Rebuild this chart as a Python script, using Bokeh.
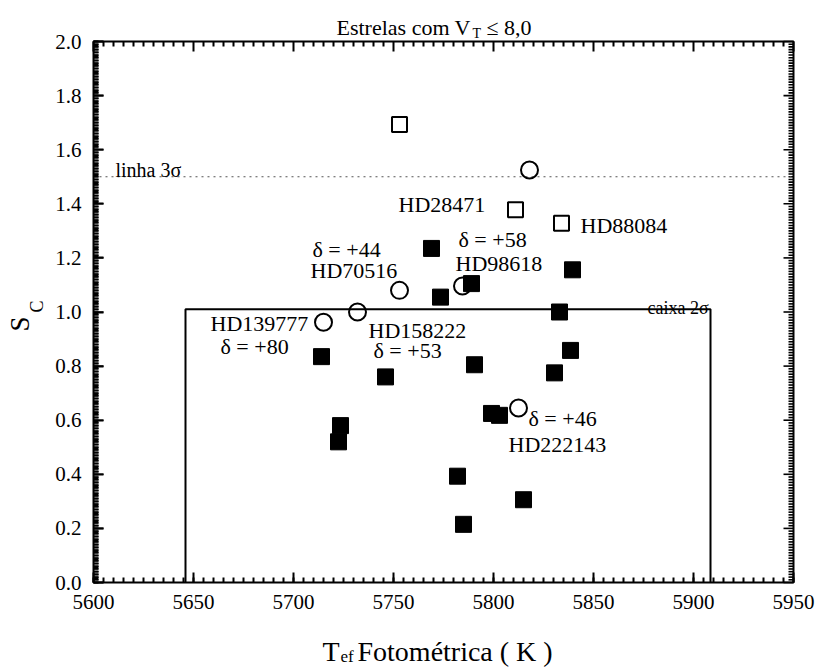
import math
import numpy as np
from bokeh.plotting import figure
from bokeh.models import LinearAxis, SingleIntervalTicker, Label, Range1d
from bokeh.embed import file_html
from bokeh.resources import INLINE

# ---------------- data ----------------
filled_x = [5714, 5723.5, 5722.5, 5746, 5769, 5773.5, 5789, 5790.5, 5782, 5785,
            5799, 5803, 5815, 5830.5, 5833, 5838.5, 5839.5]
filled_y = [0.835, 0.58, 0.52, 0.76, 1.235, 1.055, 1.105, 0.805, 0.393, 0.215,
            0.625, 0.618, 0.306, 0.775, 1.0, 0.858, 1.156]

open_sq_x = [5753, 5811, 5834]
open_sq_y = [1.693, 1.378, 1.328]

circle_x = [5818, 5753, 5732, 5715, 5784.5, 5812.5]
circle_y = [1.525, 1.08, 1.0, 0.962, 1.096, 0.645]

box_x = [5646, 5646, 5908.5, 5908.5]
box_y = [0.0, 1.01, 1.01, 0.0]
line_3sigma = 1.5

x_min, x_max = 5600, 5950
y_min, y_max = 0.0, 2.0
X_MAJOR, X_MINOR_N = 50, 10
Y_MAJOR, Y_MINOR_N = 0.2, 20
y_label_overrides = {0: "0.0", 1: "1.0", 2: "2.0"}

note_text = ["HD28471", "HD88084", "δ = +58", "HD98618", "δ = +44", "HD70516",
             "HD139777", "δ = +80", "HD158222", "δ = +53", "δ = +46", "HD222143"]
note_x = [5752.5, 5843.5, 5782.5, 5781, 5709.5, 5708.5,
          5658.5, 5663.5, 5737.5, 5740, 5817.5, 5807.5]
note_y = [1.396, 1.319, 1.267, 1.181, 1.23, 1.152,
          0.959, 0.874, 0.933, 0.859, 0.607, 0.511]

FONT = "Liberation Serif"
W, H = 815, 669
L, R, T, B = 93, 793, 41, 582
SX = (R - L) / (x_max - x_min)
SY = (B - T) / (y_max - y_min)
MAJOR_LEN, MINOR_LEN = 10, 5   # tick lengths, pixels

def dx(px):
    return x_min + (px - L) / SX

def dy(py):
    return y_min + (B - py) / SY

p = figure(width=W, height=H,
           x_range=Range1d(dx(0), dx(W)), y_range=Range1d(dy(H), dy(0)),
           output_backend="svg", toolbar_location=None,
           min_border_left=0, min_border_right=0, min_border_top=0,
           min_border_bottom=0, x_axis_location=None, y_axis_location=None)
p.grid.visible = False
p.outline_line_color = None

def base_axis(ticker, loc, bounds):
    ax = LinearAxis(ticker=ticker, fixed_location=loc, bounds=bounds)
    ax.major_tick_in = MAJOR_LEN
    ax.major_tick_out = 0
    ax.minor_tick_in = MINOR_LEN
    ax.minor_tick_out = 0
    ax.major_tick_line_width = 2
    ax.minor_tick_line_width = 2
    ax.major_label_text_font = FONT
    ax.major_label_text_font_size = "21px"
    ax.major_label_text_color = "black"
    ax.major_label_standoff = 12
    return ax

bottom = base_axis(SingleIntervalTicker(interval=X_MAJOR, num_minor_ticks=X_MINOR_N),
                   y_min, (x_min, x_max))
p.add_layout(bottom, "below")
left = base_axis(SingleIntervalTicker(interval=Y_MAJOR, num_minor_ticks=Y_MINOR_N),
                 x_min, (y_min, y_max))
left.major_label_overrides = y_label_overrides
p.add_layout(left, "left")

# mirrored inward tick marks on the top, left and right edges, placed through
# the plot's scales at the same tick positions as the axes
x_ticks = np.linspace(x_min, x_max, int(round((x_max - x_min) / X_MAJOR)) * X_MINOR_N + 1)
x_major = (np.arange(len(x_ticks)) % X_MINOR_N) == 0
y_ticks = np.linspace(y_min, y_max, int(round((y_max - y_min) / Y_MAJOR)) * Y_MINOR_N + 1)
y_major = (np.arange(len(y_ticks)) % Y_MINOR_N) == 0

x_len = np.where(x_major, MAJOR_LEN, MINOR_LEN) / SY
y_len = np.where(y_major, MAJOR_LEN, MINOR_LEN) / SX

# top edge (ticks pointing down)
p.segment(x0=x_ticks, y0=np.full(len(x_ticks), y_max), x1=x_ticks, y1=y_max - x_len,
          line_color="black", line_width=2)
# left edge (ticks pointing right)
p.segment(x0=np.full(len(y_ticks), x_min), y0=y_ticks, x1=x_min + y_len, y1=y_ticks,
          line_color="black", line_width=1.6)
# right edge (ticks pointing left)
p.segment(x0=np.full(len(y_ticks), x_max), y0=y_ticks, x1=x_max - y_len, y1=y_ticks,
          line_color="black", line_width=1.6)

# frame of the axes
p.quad(left=x_min, right=x_max, bottom=y_min, top=y_max, fill_color=None,
       line_color="black", line_width=2)

# 3 sigma line
p.line([x_min, x_max], [line_3sigma, line_3sigma], line_color="#555555",
       line_width=1, line_dash="2 4")
# 2 sigma box
p.line(box_x, box_y, line_color="black", line_width=2)

# points
p.scatter(filled_x, filled_y, marker="square", size=16, fill_color="black",
          line_color="black")
p.scatter(open_sq_x, open_sq_y, marker="square", size=15, fill_color=None,
          line_color="black", line_width=2)
p.scatter(circle_x, circle_y, marker="circle", size=17, fill_color=None,
          line_color="black", line_width=2)

def lab(x, y, text, size, align="left", baseline="middle", angle=0):
    p.add_layout(Label(x=x, y=y, text=text, text_font=FONT,
                       text_font_size=size, text_align=align,
                       text_baseline=baseline, text_color="black", angle=angle))

for t, x, y in zip(note_text, note_x, note_y):
    lab(x, y, t, "22px")

lab(dx(647), dy(307), "caixa 2σ", "18px", baseline="alphabetic")
lab(dx(115), dy(169), "linha 3σ", "20px", baseline="alphabetic")

# title
lab(dx(336), dy(27), "Estrelas com V", "22px", baseline="alphabetic")
lab(dx(472), dy(33), "T", "14px")
lab(dx(486), dy(27), "≤ 8,0", "22px", baseline="alphabetic")

# x label
lab(dx(322), dy(651), "T", "28px", baseline="alphabetic")
lab(dx(340), dy(656), "ef", "17px")
lab(dx(357), dy(651), "Fotométrica ( K )", "28px", baseline="alphabetic")

# y label
lab(dx(19), dy(323.5), "S", "27px", align="center", baseline="middle", angle=math.pi / 2)
lab(dx(36), dy(306), "C", "18px", align="center", baseline="middle", angle=math.pi / 2)

open("out.html", "w").write(file_html(p, INLINE))
